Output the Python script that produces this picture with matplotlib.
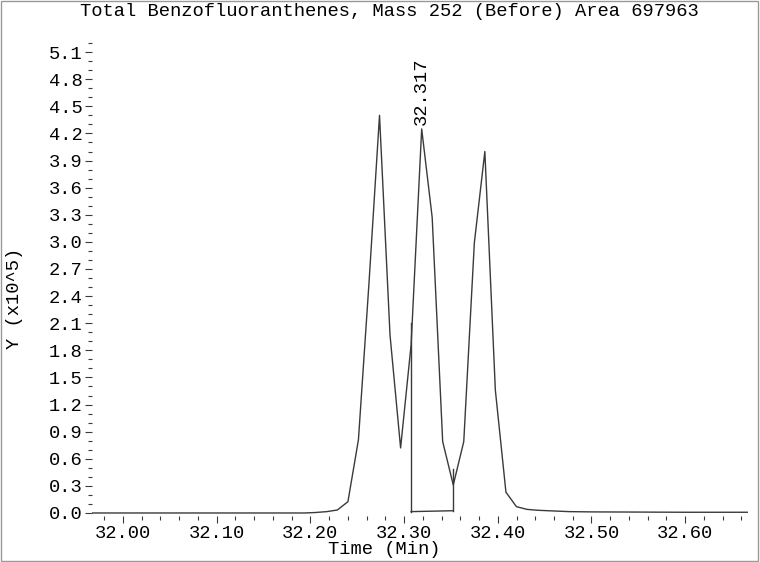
import matplotlib
matplotlib.use('Agg')
from matplotlib import pyplot as plt
from matplotlib.ticker import MultipleLocator, FormatStrFormatter
from matplotlib.patches import Rectangle

# chromatogram samples (time in min, abundance in 1e5 counts)
time = [31.967, 32.194, 32.205, 32.2176, 32.2288, 32.2401, 32.2513, 32.2626,
        32.2738, 32.2850, 32.2963, 32.3075, 32.3188, 32.3300, 32.3412, 32.3525,
        32.3637, 32.3750, 32.3862, 32.3974, 32.4087, 32.4199, 32.4311, 32.4424,
        32.4536, 32.4648, 32.476, 32.50, 32.55, 32.60, 32.667]
signal = [0.0, 0.0, 0.005, 0.015, 0.033, 0.125, 0.81, 2.55,
          4.40, 1.97, 0.72, 1.86, 4.25, 3.27, 0.79, 0.31,
          0.79, 2.99, 4.00, 1.36, 0.23, 0.07, 0.04, 0.03,
          0.025, 0.02, 0.015, 0.012, 0.01, 0.008, 0.008]

# integration baseline of the labelled peak
base_start, base_end = 32.3075, 32.3525
base_levels = [0.015, 0.025]
marker_tops = [2.1, 0.49]

peak_time, peak_height = 32.3188, 4.25
peak_label = '32.317'

title = 'Total Benzofluoranthenes, Mass 252 (Before) Area 697963'

font = 'Liberation Mono'
fs = 13.5
ink = '#3a3a3a'

fig = plt.figure(figsize=(7.6, 5.62), dpi=100)
ax = fig.add_axes([92 / 760, 0.0824, 656 / 760, 0.849])

ax.plot(time, signal, color=ink, lw=1.0)
ax.plot([base_start, base_start], [base_levels[0], marker_tops[0]], color=ink, lw=1.0)
ax.plot([base_end, base_end], [base_levels[1], marker_tops[1]], color=ink, lw=1.0)
ax.plot([base_start, base_end], base_levels, color=ink, lw=1.0)

ax.annotate(peak_label, (peak_time, peak_height), xytext=(0, 4),
            textcoords='offset pixels', rotation=90, ha='center', va='bottom',
            fontsize=fs, family=font)

ax.set_xlim(31.967, 32.667)
ax.set_ylim(-0.03, 5.25)
for s in ax.spines.values():
    s.set_visible(False)

ax.xaxis.set_major_locator(MultipleLocator(0.1))
ax.xaxis.set_minor_locator(MultipleLocator(0.02))
ax.xaxis.set_major_formatter(FormatStrFormatter('%.2f'))
ax.yaxis.set_minor_locator(MultipleLocator(0.1))
ax.yaxis.set_major_formatter(FormatStrFormatter('%.1f'))
ax.set_yticks([i * 0.3 for i in range(18)])

ax.tick_params(which='major', length=5, width=0.8, color=ink, pad=2,
               labelsize=fs)
ax.tick_params(which='minor', length=3, width=0.8, color=ink)
for lab in ax.get_xticklabels() + ax.get_yticklabels():
    lab.set_family(font)

fig.text(389 / 760, 1 - 11 / 562, title, ha='center', va='center',
         fontsize=fs, family=font)
fig.text(384 / 760, 1 - 550 / 562, 'Time (Min)', ha='center', va='center',
         fontsize=fs, family=font)
fig.text(15 / 760, 1 - 298 / 562, 'Y (x10^5)', ha='center', va='center',
         rotation=90, fontsize=fs, family=font)

fig.patches.append(Rectangle((0.001, 0.002), 0.997, 0.996, transform=fig.transFigure,
                             fill=False, edgecolor='#999999', lw=1))

fig.savefig('out.png', dpi=100)
